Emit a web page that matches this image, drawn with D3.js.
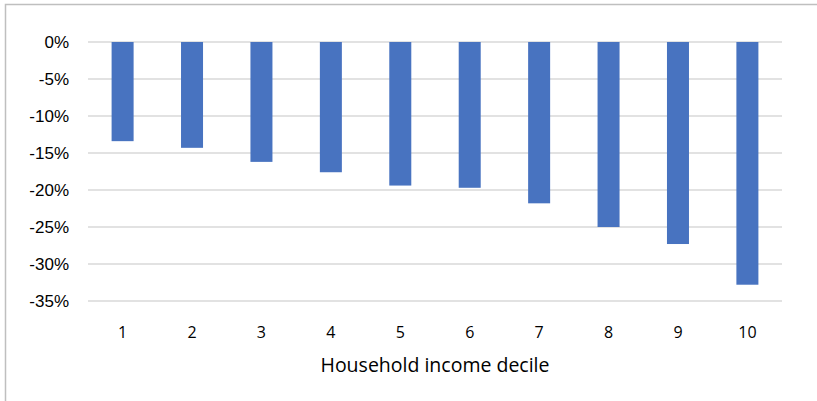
<!DOCTYPE html>
<html>
<head>
<meta charset="utf-8">
<script src="https://cdn.jsdelivr.net/npm/d3@7"></script>
<style>
  body { margin: 0; background: #fff; }
  .grid-line { stroke: #d9d9d9; stroke-width: 1.5; }
  .y-label { font-family: "Liberation Sans", Arial, sans-serif; font-size: 17px; fill: #000; }
  .x-label { font-family: "Open Sans", "Noto Sans", sans-serif; font-size: 16px; fill: #000; }
  .axis-title { font-family: "Open Sans", "Noto Sans", sans-serif; font-size: 19.5px; fill: #000; }
</style>
</head>
<body>
<div id="chart-area"></div>
<script>
  // data
  const deciles = ["1", "2", "3", "4", "5", "6", "7", "8", "9", "10"]
  const changes = [-13.4, -14.3, -16.2, -17.6, -19.4, -19.7, -21.8, -25.0, -27.3, -32.8]
  const yTicks = [0, -5, -10, -15, -20, -25, -30, -35]
  const xTitle = "Household income decile"

  // dimensions
  const dimensions = {
    width: 817,
    height: 401,
    margin: { top: 42, right: 35, bottom: 100, left: 88 },
  }
  dimensions.boundedWidth = dimensions.width - dimensions.margin.left - dimensions.margin.right
  dimensions.boundedHeight = dimensions.height - dimensions.margin.top - dimensions.margin.bottom

  const wrapper = d3.select("#chart-area")
    .append("svg")
      .attr("width", dimensions.width)
      .attr("height", dimensions.height)

  // frame around the chart
  wrapper.append("rect")
    .attr("x", 5.5)
    .attr("y", 4.5)
    .attr("width", dimensions.width + 10)
    .attr("height", dimensions.height + 10)
    .attr("fill", "none")
    .attr("stroke", "#bfbfbf")
    .attr("stroke-width", 1.5)

  const bounds = wrapper.append("g")
    .attr("transform", `translate(${dimensions.margin.left},${dimensions.margin.top})`)

  // scales
  const xScale = d3.scaleBand()
    .domain(deciles)
    .range([0, dimensions.boundedWidth])
    .paddingInner(0.683)
    .paddingOuter(0.34)

  const yScale = d3.scaleLinear()
    .domain([0, -35])
    .range([0, 259])

  // gridlines
  bounds.selectAll(".grid-line")
    .data(yTicks)
    .join("line")
      .attr("class", "grid-line")
      .attr("x1", 0)
      .attr("x2", dimensions.boundedWidth)
      .attr("y1", d => yScale(d))
      .attr("y2", d => yScale(d))

  bounds.selectAll(".y-label")
    .data(yTicks)
    .join("text")
      .attr("class", "y-label")
      .attr("x", -19)
      .attr("y", d => yScale(d))
      .attr("dy", "0.35em")
      .attr("text-anchor", "end")
      .text(d => `${d}%`)

  // bars
  bounds.selectAll(".bar")
    .data(changes)
    .join("rect")
      .attr("class", "bar")
      .attr("x", (d, i) => xScale(deciles[i]))
      .attr("y", yScale(0))
      .attr("width", xScale.bandwidth())
      .attr("height", d => yScale(d) - yScale(0))
      .attr("fill", "#4873c0")

  // x labels
  bounds.selectAll(".x-label")
    .data(deciles)
    .join("text")
      .attr("class", "x-label")
      .attr("x", d => xScale(d) + xScale.bandwidth() / 2)
      .attr("y", 296)
      .attr("text-anchor", "middle")
      .text(d => d)

  bounds.append("text")
    .attr("class", "axis-title")
    .attr("x", dimensions.boundedWidth / 2)
    .attr("y", 330)
    .attr("text-anchor", "middle")
    .text(xTitle)
</script>
</body>
</html>
